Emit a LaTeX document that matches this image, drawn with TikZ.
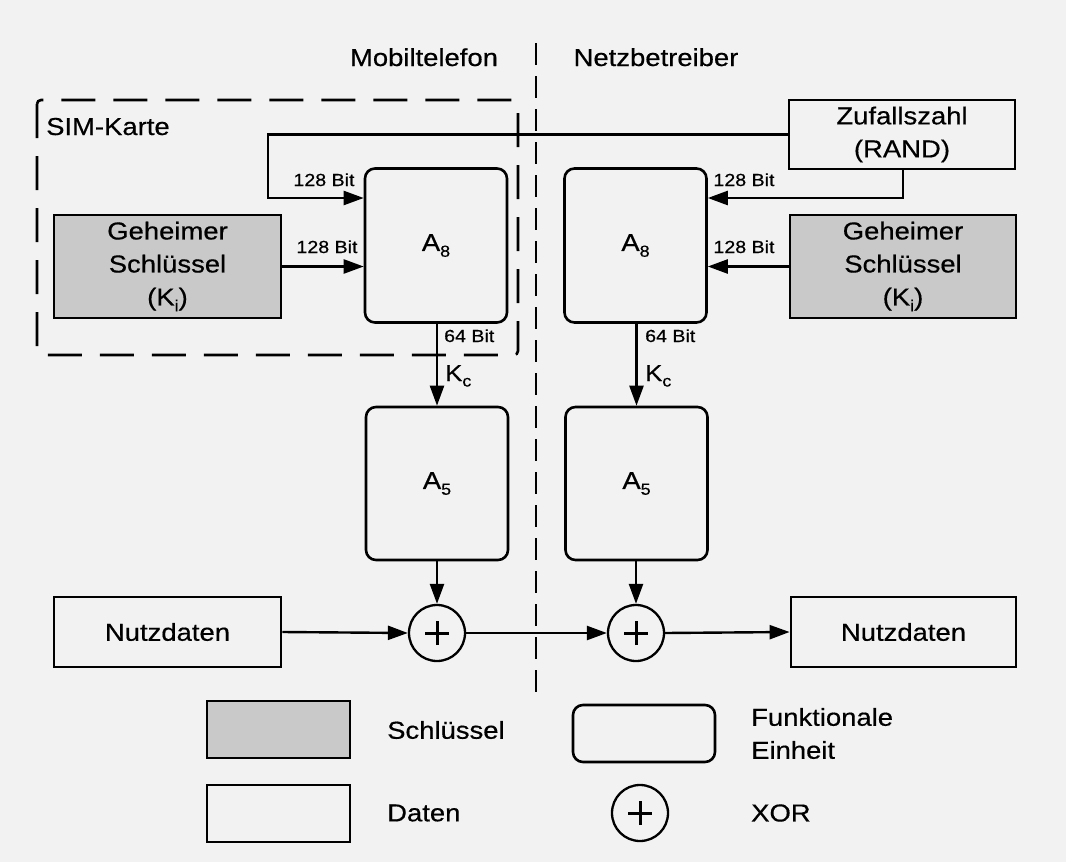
\documentclass[tikz,border=0pt]{standalone}
\usepackage{fontspec}
\setmainfont{Liberation Sans}[FakeStretch=1.12, FakeBold=0.5]
\usetikzlibrary{arrows.meta}
\newcommand{\lowsub}[1]{\raisebox{-0.45ex}{\fontsize{16}{16}\selectfont #1}}
\begin{document}
\begin{tikzpicture}[x=1pt,y=-1pt,
  big/.style={font=\fontsize{24.5}{33}\selectfont},
  small/.style={font=\fontsize{17.5}{18}\selectfont},
  lbl/.style={inner sep=0pt},
  keybox/.style={draw, line width=2.8pt, fill=gray!42, align=center, big, inner sep=0pt},
  databox/.style={draw, line width=2.8pt, align=center, big, inner sep=0pt},
  funcbox/.style={draw, line width=2.6pt, rounded corners=10pt, big, inner sep=0pt,
    minimum width=142pt, minimum height=154pt},
  xorop/.style={draw, circle, line width=2.3pt, minimum size=56pt, inner sep=0pt,
    path picture={
      \draw[line width=3pt] ([xshift=-12pt]path picture bounding box.center) -- ([xshift=12pt]path picture bounding box.center);
      \draw[line width=3pt] ([yshift=-12pt]path picture bounding box.center) -- ([yshift=12pt]path picture bounding box.center);
    }},
  arr/.style={line width=2.4pt, -{Triangle[length=20pt,width=14pt]}},
  simline/.style={line width=2.6pt, dash pattern=on 34pt off 18pt, rounded corners=4pt},
  midline/.style={line width=2.2pt, dash pattern=on 22pt off 11pt}
]
\useasboundingbox[fill=gray!10] (0,0) rectangle (1066,862);

% headers and dividing line
\node[lbl, big, anchor=base] (hm) at (424,66) {Mobiltelefon};
\node[lbl, big, anchor=base] (hn) at (656,66) {Netzbetreiber};
\coordinate (ctop) at (536,43);
\coordinate (cbot) at (536,697);
\draw[midline] (ctop) -- (cbot);

% SIM card
\coordinate (simA) at (37,100);
\coordinate (simB) at (518,355);
\draw[simline] (simA) rectangle (simB);
\node[lbl, big, anchor=base west] (sim) at (46,135) {SIM-Karte};

% boxes
\node[keybox, minimum width=227pt, minimum height=103pt] (keyL) at (167.5,266.5)
  {Geheimer\\Schlüssel\\(K\lowsub{i})};
\node[keybox, minimum width=226pt, minimum height=103pt] (keyR) at (903,266.5)
  {Geheimer\\Schlüssel\\(K\lowsub{i})};
\node[databox, minimum width=226pt, minimum height=69pt] (rand) at (902,134.5)
  {Zufallszahl\\(RAND)};
\node[funcbox] (a8L) at (436,245.5) {A\lowsub{8}};
\node[funcbox] (a8R) at (635.5,245.5) {A\lowsub{8}};
\node[funcbox, minimum height=153pt] (a5L) at (437,483.5) {A\lowsub{5}};
\node[funcbox, minimum height=153pt] (a5R) at (636.5,483.5) {A\lowsub{5}};
\node[xorop] (xL) at (437,633) {};
\node[xorop] (xR) at (636,633) {};
\node[databox, minimum width=227pt, minimum height=70pt] (dL) at (167.5,632) {Nutzdaten};
\node[databox, minimum width=225pt, minimum height=70pt] (dR) at (903.5,632) {Nutzdaten};

% connectors
\coordinate (r1) at (268,134.5);
\coordinate (r2) at (268,198);
\draw[arr] (rand.west) -- (r1) -- (r2) -- (r2 -| a8L.west);
\coordinate (r3) at (903,198);
\draw[arr] (rand.south -| r3) -- (r3) -- (r3 -| a8R.east);
\draw[arr] (keyL.east) -- (keyL.east -| a8L.west);
\draw[arr] (keyR.west) -- (keyR.west -| a8R.east);
\draw[arr] (a8L.south -| a5L.north) -- (a5L.north);
\draw[arr] (a8R.south -| a5R.north) -- (a5R.north);
\draw[arr] (a5L.south -| xL.north) -- (xL.north);
\draw[arr] (a5R.south -| xR.north) -- (xR.north);
\draw[arr] (dL.east) -- (xL.west);
\draw[arr] (xL.east) -- (xR.west);
\draw[arr] (xR.east) -- (dR.west);

% connector labels
\node[lbl, small, anchor=base] (b1) at (324,186) {128 Bit};
\node[lbl, small, anchor=base] (b2) at (327,253) {128 Bit};
\node[lbl, small, anchor=base] (b3) at (744,186) {128 Bit};
\node[lbl, small, anchor=base] (b4) at (744,253) {128 Bit};
\node[lbl, small, anchor=base west] (b5) at (444,342) {64 Bit};
\node[lbl, small, anchor=base west] (b6) at (645,342) {64 Bit};
\node[lbl, font=\fontsize{23}{23}\selectfont, anchor=base west] (kc1) at (445,381) {K\lowsub{c}};
\node[lbl, font=\fontsize{23}{23}\selectfont, anchor=base west] (kc2) at (645,381) {K\lowsub{c}};

% legend
\node[keybox, minimum width=143pt, minimum height=57pt] (lk) at (278.5,729.5) {};
\node[lbl, big, anchor=west] (lkt) at (387,730) {Schlüssel};
\node[funcbox, minimum width=142pt, minimum height=57pt] (lf) at (644,733.5) {};
\node[lbl, big, anchor=west, align=left] (lft) at (751,733.5) {Funktionale\\Einheit};
\node[databox, minimum width=143pt, minimum height=57pt] (ld) at (278.5,813.5) {};
\node[lbl, big, anchor=west] (ldt) at (387,813) {Daten};
\node[xorop] (lx) at (640,813) {};
\node[lbl, big, anchor=west] (lxt) at (751,813) {XOR};
\end{tikzpicture}
\end{document}
